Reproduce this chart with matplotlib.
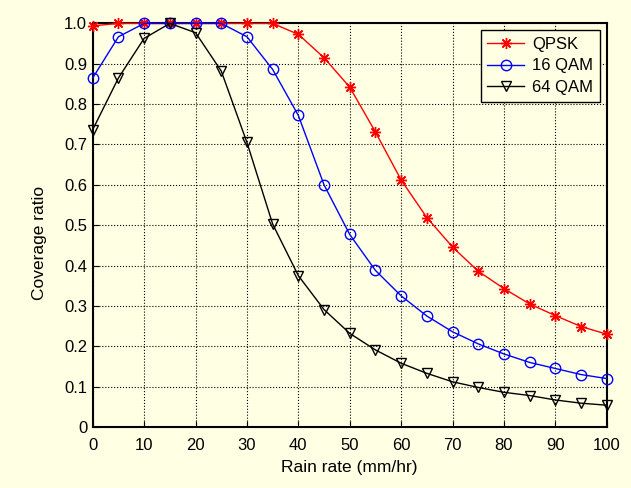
import matplotlib
matplotlib.use("Agg")
import matplotlib.pyplot as plt
import numpy as np

rain_rate = list(range(0, 101, 5))
qpsk = [0.994, 1.0, 1.0, 1.0, 1.0, 1.0, 1.0, 1.0, 0.973, 0.915, 0.842,
        0.731, 0.612, 0.519, 0.446, 0.386, 0.343, 0.305, 0.276, 0.249, 0.230]
qam16 = [0.865, 0.967, 1.0, 1.0, 1.0, 1.0, 0.967, 0.886, 0.772, 0.600, 0.477,
         0.388, 0.325, 0.275, 0.236, 0.206, 0.181, 0.160, 0.145, 0.130, 0.120]
qam64 = [0.737, 0.865, 0.963, 1.0, 0.977, 0.882, 0.705, 0.503, 0.375, 0.291, 0.232,
         0.191, 0.158, 0.133, 0.112, 0.098, 0.086, 0.078, 0.067, 0.059, 0.054]

x_ticks = list(range(0, 101, 10))
y_ticks = [i / 10 for i in range(11)]
y_labels = ["0"] + ["%.1f" % v for v in y_ticks[1:]]

BG = "#FFFFE3"
plt.rcParams["font.family"] = ["Liberation Sans", "DejaVu Sans"]

fig = plt.figure(figsize=(6.31, 4.88), dpi=100, facecolor=BG)
ax = fig.add_axes([0.147, 0.125, 0.8145, 0.827])
ax.set_facecolor(BG)

ax.plot(rain_rate, qpsk, color="red", lw=1, marker=(8, 2, 0), ms=8,
        mew=1, label="QPSK", clip_on=False, zorder=3)
ax.plot(rain_rate, qam16, color="blue", lw=1, marker="o", ms=7.5,
        mfc="none", mew=1, label="16 QAM", clip_on=False, zorder=3)
ax.plot(rain_rate, qam64, color="black", lw=1, marker="v", ms=7.5,
        mfc="none", mew=1, label="64 QAM", clip_on=False, zorder=3)

ax.set_xlim(0, 100)
ax.set_ylim(0, 1)
ax.set_xticks(x_ticks)
ax.set_yticks(y_ticks)
ax.set_yticklabels(y_labels)
ax.tick_params(direction="in", length=4, labelsize=12)
ax.tick_params(axis="x", pad=8)
ax.tick_params(axis="y", pad=4)
ax.grid(True, color="black", linestyle=":", linewidth=0.8)
for s in ax.spines.values():
    s.set_linewidth(1.5)

ax.set_xlabel("Rain rate (mm/hr)", fontsize=12.5, labelpad=5)
ax.set_ylabel("Coverage ratio", fontsize=12.5)
ax.yaxis.set_label_coords(-0.089, 0.455)

leg = ax.legend(loc="upper right", fontsize=12, fancybox=False, framealpha=1,
                edgecolor="black", facecolor=BG, borderaxespad=0.4,
                handlelength=2.2, handletextpad=0.5, labelspacing=0.4,
                borderpad=0.4)
leg.get_frame().set_linewidth(1)

fig.savefig("out.png", dpi=100, facecolor=BG)
